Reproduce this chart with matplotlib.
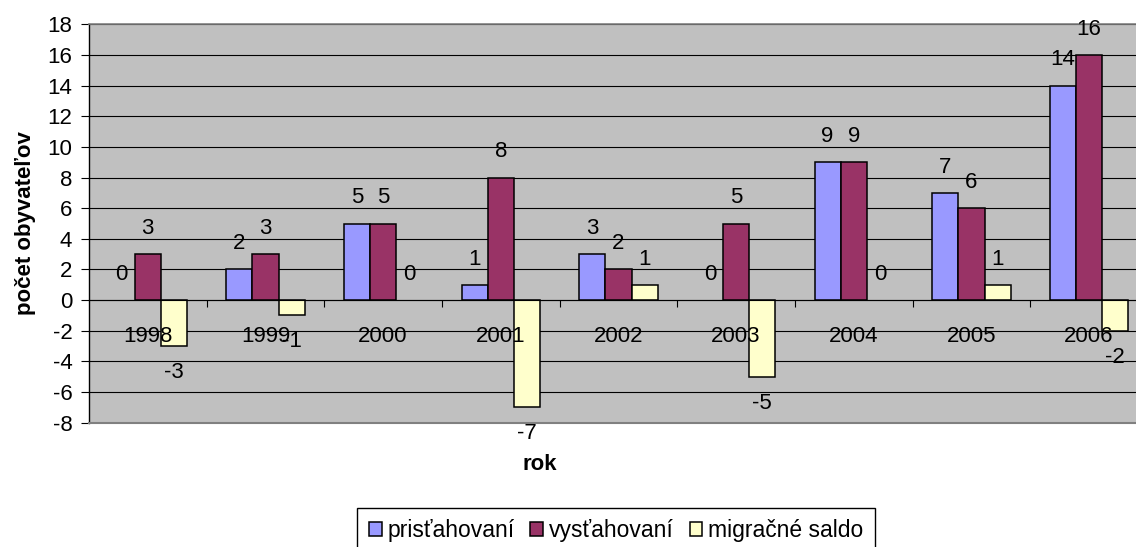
import numpy as np
import matplotlib.pyplot as plt

plt.rcParams['font.family'] = ['Liberation Sans', 'DejaVu Sans']
plt.rcParams['axes.unicode_minus'] = False

roky = ['1998', '1999', '2000', '2001', '2002', '2003', '2004', '2005', '2006']
pristahovani = [0, 2, 5, 1, 3, 0, 9, 7, 14]
vystahovani = [3, 3, 5, 8, 2, 5, 9, 6, 16]
saldo = [-3, -1, 0, -7, 1, -5, 0, 1, -2]

fs = 16
fig = plt.figure(figsize=(11.36, 5.47), dpi=100)
ax = fig.add_axes([0.0783, 0.2272, 0.9322, 0.7284])
ax.set_facecolor('#C0C0C0')

x = np.arange(len(roky))
w = 1 / 4.5
series = [
    (pristahovani, '#9999FF', 'prisťahovaní'),
    (vystahovani, '#993366', 'vysťahovaní'),
    (saldo, '#FFFFCC', 'migračné saldo'),
]
for k, (vals, col, name) in enumerate(series):
    pos = x + (k - 1) * w
    # zero-height bars get no outline
    lws = [1.1 if v != 0 else 0 for v in vals]
    ax.bar(pos, vals, width=w, color=col, edgecolor='black', linewidth=lws,
           label=name, zorder=3)
    for xi, v in zip(pos, vals):
        if v >= 0:
            ax.annotate(str(v), (xi, v), xytext=(0, 14.5), textcoords='offset points',
                        ha='center', va='baseline', fontsize=fs, zorder=6)
        else:
            ax.annotate(str(v), (xi, v), xytext=(0, -23), textcoords='offset points',
                        ha='center', va='baseline', fontsize=fs, zorder=6)

ax.set_xlim(-0.5, len(roky) - 0.5)
ax.set_ylim(-8, 18)
ax.set_yticks(range(-8, 19, 2))
ax.tick_params(axis='y', labelsize=fs, length=6, width=0.8, pad=6)
ax.yaxis.grid(True, color='black', linewidth=0.8)
ax.set_axisbelow(True)

# category axis crosses at zero, its labels sit on top of the bars
ax.spines['bottom'].set_position(('data', 0))
ax.spines['bottom'].set_linewidth(0.8)
ax.spines['bottom'].set_zorder(4)
ax.xaxis.set_zorder(5)
ax.set_xticks(x[:-1] + 0.5)
ax.set_xticklabels([])
ax.set_xticks(x, minor=True)
ax.set_xticklabels(roky, minor=True)
ax.tick_params(axis='x', which='major', length=5, width=0.8, direction='out')
ax.tick_params(axis='x', which='minor', length=0, pad=18.5, labelsize=fs)

ax.spines['left'].set_linewidth(1.0)
for s in ['top', 'right']:
    ax.spines[s].set_color('#808080')
    ax.spines[s].set_linewidth(1.2)
ax.axhline(-8, color='#808080', linewidth=1.5, clip_on=False, zorder=4)

ax.set_ylabel('počet obyvateľov', fontsize=fs, fontweight='bold', labelpad=8)
fig.text(540 / 1136, 1 - 464 / 547, 'rok', fontsize=fs, fontweight='bold',
         ha='center', va='center')

leg = ax.legend(loc='upper center', bbox_to_anchor=(616 / 1136, 1 - 508 / 547),
                bbox_transform=fig.transFigure, ncol=3, fontsize=16.5, frameon=True,
                fancybox=False, edgecolor='black', framealpha=1, borderaxespad=0,
                handlelength=0.55, handleheight=0.55, handletextpad=0.25,
                columnspacing=0.7, borderpad=0.5)
for h in leg.legend_handles:
    h.set_edgecolor('black')
    h.set_linewidth(1.1)

fig.savefig('out.png', dpi=100)
